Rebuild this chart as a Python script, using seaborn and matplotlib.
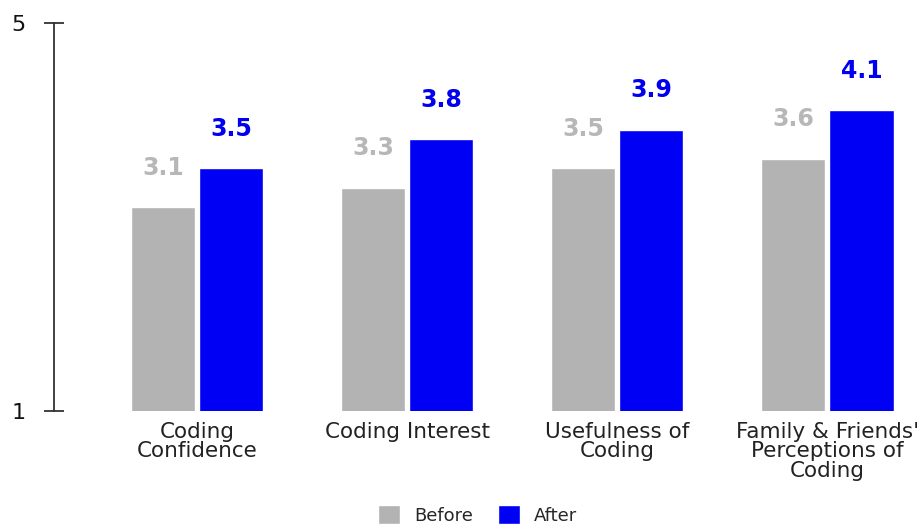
import pandas as pd
import matplotlib
matplotlib.use("Agg")
import matplotlib.pyplot as plt
import seaborn as sns

# Données du graphique
categories = ["Coding\nConfidence", "Coding Interest", "Usefulness of\nCoding",
              "Family & Friends'\nPerceptions of\nCoding"]
before = [3.1, 3.3, 3.5, 3.6]
after = [3.5, 3.8, 3.9, 4.1]
phases = ["Before", "After"]

df = pd.DataFrame({
    "category": categories * 2,
    "score": before + after,
    "phase": ["Before"] * len(categories) + ["After"] * len(categories),
})

sns.set_style("white")
plt.rcParams["font.family"] = ["DejaVu Sans"]

fig = plt.figure(figsize=(9.24, 5.25), dpi=100)
ax = fig.add_axes([54 / 924, 114 / 525, 870 / 924, 388 / 525])

colors = {"Before": "#b3b3b3", "After": "#0000f5"}
sns.barplot(data=df, x="category", y="score", hue="phase", order=categories,
            hue_order=phases, palette=colors, width=0.65, gap=0.06,
            saturation=1, ax=ax)

ax.set_xlim(-0.68, 3.46)
ax.set_ylim(1, 5)
ax.set_yticks([1, 5])
ax.set_yticklabels(["1", "5"], fontsize=16, color="#111111")
ax.tick_params(axis="y", left=True, direction="inout", length=15, width=1.3,
               color="#333333", pad=13)
ax.tick_params(axis="x", bottom=False, length=0, pad=8)
ax.set_xticks(range(len(categories)))
ax.set_xticklabels(categories, fontsize=15.5, color="#222222", linespacing=0.95)
ax.set_xlabel("")
ax.set_ylabel("")

sns.despine(ax=ax, top=True, right=True, bottom=True)
ax.spines["left"].set_color("#333333")
ax.spines["left"].set_linewidth(1.3)

# Étiquettes des valeurs
label_colors = ["#b7b7b7", "#0000ee"]
for container, vals, col in zip(ax.containers, [before, after], label_colors):
    ax.bar_label(container, labels=[f"{v:.1f}" for v in vals], padding=20,
                 color=col, fontsize=17, fontweight="bold")

# Légende en bas
handles, labels = ax.get_legend_handles_labels()
ax.legend_.remove()
fig.legend(handles, labels, loc="center", bbox_to_anchor=(0.517, 0.019),
           ncol=2, frameon=False, fontsize=13, handlelength=1.2,
           handleheight=1.2, handletextpad=0.8, columnspacing=1.4)

fig.savefig("out.png", dpi=100)
